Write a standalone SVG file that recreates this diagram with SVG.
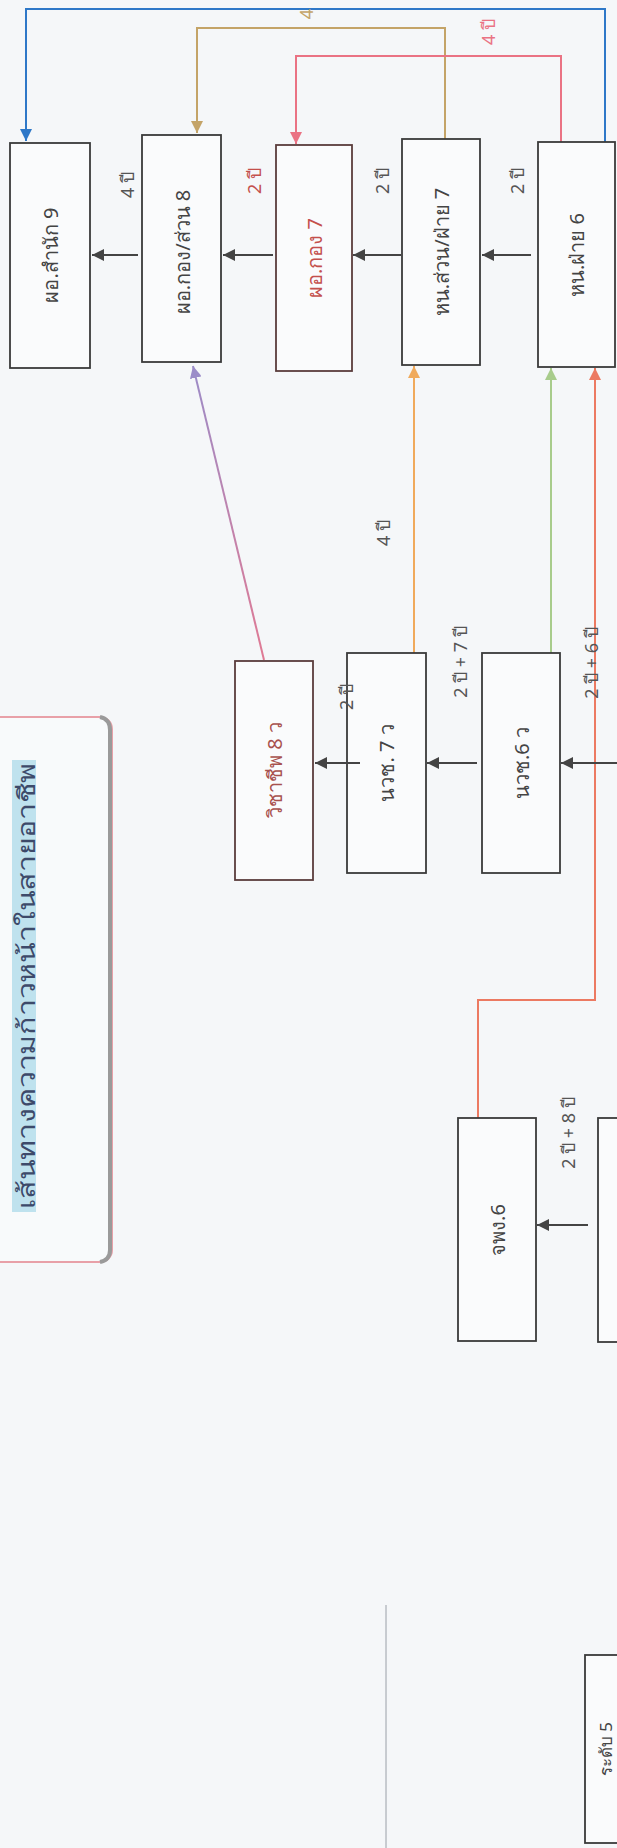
<svg xmlns="http://www.w3.org/2000/svg" width="617" height="1848" viewBox="0 0 617 1848">
<style>
.bg{fill:#f5f7f9}
.box{fill:#fafbfc;stroke:#3a3a3a;stroke-width:1.8}
.boxr{fill:#fafbfc;stroke:#5a3c3c;stroke-width:1.8}
.t{font-family:"Noto Sans","DejaVu Sans",sans-serif;font-size:20px;fill:#444;text-anchor:middle;dominant-baseline:central}
.lbl{font-family:"Noto Sans","DejaVu Sans",sans-serif;font-size:18px;fill:#555;text-anchor:middle;dominant-baseline:central}
.red{fill:#c4504c}
.arr{stroke:#444;stroke-width:2.2;fill:none}
.c{fill:none;stroke-width:2}
</style>
<defs>
<marker id="mk" markerUnits="userSpaceOnUse" markerWidth="13" markerHeight="12" refX="12" refY="6" orient="auto"><path d="M0,0 L12,6 L0,12 z" fill="#444"/></marker>
<marker id="mb" markerUnits="userSpaceOnUse" markerWidth="13" markerHeight="12" refX="12" refY="6" orient="auto"><path d="M0,0 L12,6 L0,12 z" fill="#2e78c8"/></marker>
<marker id="mt" markerUnits="userSpaceOnUse" markerWidth="13" markerHeight="12" refX="12" refY="6" orient="auto"><path d="M0,0 L12,6 L0,12 z" fill="#c4a468"/></marker>
<marker id="mp" markerUnits="userSpaceOnUse" markerWidth="13" markerHeight="12" refX="12" refY="6" orient="auto"><path d="M0,0 L12,6 L0,12 z" fill="#ea7384"/></marker>
<marker id="mv" markerUnits="userSpaceOnUse" markerWidth="13" markerHeight="12" refX="12" refY="6" orient="auto"><path d="M0,0 L12,6 L0,12 z" fill="#9b8cc8"/></marker>
<marker id="mo" markerUnits="userSpaceOnUse" markerWidth="13" markerHeight="12" refX="12" refY="6" orient="auto"><path d="M0,0 L12,6 L0,12 z" fill="#f0aa5c"/></marker>
<marker id="mg" markerUnits="userSpaceOnUse" markerWidth="13" markerHeight="12" refX="12" refY="6" orient="auto"><path d="M0,0 L12,6 L0,12 z" fill="#a8cc8c"/></marker>
<marker id="ms" markerUnits="userSpaceOnUse" markerWidth="13" markerHeight="12" refX="12" refY="6" orient="auto"><path d="M0,0 L12,6 L0,12 z" fill="#ec7a62"/></marker>
<linearGradient id="gv" gradientUnits="userSpaceOnUse" x1="264" y1="660" x2="193" y2="365"><stop offset="0" stop-color="#e07a94"/><stop offset="1" stop-color="#9b8cc8"/></linearGradient>
</defs>
<rect class="bg" x="0" y="0" width="617" height="1848"/>

<g id="title">
<rect x="-30" y="717" width="142" height="545" rx="12" fill="#f8fafb" stroke="#e8a0a8" stroke-width="2"/>
<path d="M100,717 Q110,719 110,730 L110,1250 Q110,1260 100,1262" fill="none" stroke="#9a9a9a" stroke-width="4"/>
<rect x="12" y="760" width="24" height="452" fill="#bfe2ee"/>
<text transform="translate(25,986) rotate(-90)" text-anchor="middle" dominant-baseline="central" font-family="'Noto Sans','DejaVu Sans',sans-serif" font-size="24" fill="#3d4a6a" textLength="446" lengthAdjust="spacingAndGlyphs">เส้นทางความก้าวหน้าในสายอาชีพ</text>
</g>

<g id="connectors">
<polyline class="c" stroke="#2e78c8" points="605,142 605,9 26,9 26,141" marker-end="url(#mb)"/>
<polyline class="c" stroke="#c4a468" points="445,139 445,28 197,28 197,133" marker-end="url(#mt)"/>
<polyline class="c" stroke="#ea7384" points="561,142 561,56 296,56 296,144" marker-end="url(#mp)"/>
<line class="c" stroke="url(#gv)" x1="264" y1="660" x2="193" y2="366" marker-end="url(#mv)"/>
<line class="c" stroke="#f0aa5c" x1="414" y1="653" x2="414" y2="366" marker-end="url(#mo)"/>
<line class="c" stroke="#a8cc8c" x1="551" y1="653" x2="551" y2="368" marker-end="url(#mg)"/>
<polyline class="c" stroke="#ec7a62" points="478,1118 478,1000 595,1000 595,368" marker-end="url(#ms)"/>
<line class="arr" x1="138" y1="255" x2="92" y2="255" marker-end="url(#mk)"/>
<line class="arr" x1="273" y1="255" x2="223" y2="255" marker-end="url(#mk)"/>
<line class="arr" x1="401" y1="255" x2="353" y2="255" marker-end="url(#mk)"/>
<line class="arr" x1="531" y1="255" x2="482" y2="255" marker-end="url(#mk)"/>
<line class="arr" x1="477" y1="763" x2="427" y2="763" marker-end="url(#mk)"/>
<line class="arr" x1="617" y1="763" x2="561" y2="763" marker-end="url(#mk)"/>
<line class="arr" x1="588" y1="1225" x2="537" y2="1225" marker-end="url(#mk)"/>
</g>

<g id="n-director9"><rect class="box" x="10" y="143" width="80" height="225"/><text class="t" transform="translate(50,255) rotate(-90)">ผอ.สำนัก 9</text></g>
<g id="n-div8"><rect class="box" x="142" y="135" width="79" height="227"/><text class="t" transform="translate(182,252) rotate(-90)">ผอ.กอง/ส่วน 8</text></g>
<g id="n-div7"><rect class="boxr" x="276" y="145" width="76" height="226"/><text class="t red" transform="translate(314,258) rotate(-90)">ผอ.กอง 7</text></g>
<g id="n-head7"><rect class="box" x="402" y="139" width="78" height="226"/><text class="t" transform="translate(441,252) rotate(-90)">หน.ส่วน/ฝ่าย 7</text></g>
<g id="n-head6"><rect class="box" x="538" y="142" width="77" height="225"/><text class="t" transform="translate(576,255) rotate(-90)">หน.ฝ่าย 6</text></g>
<g id="n-prof8"><rect class="boxr" x="235" y="661" width="78" height="219"/><text class="t" style="fill:#a8524e" transform="translate(274,770) rotate(-90)">วิชาชีพ 8 ว</text></g>
<g id="n-nwc7"><rect class="box" x="347" y="653" width="79" height="220"/><text class="t" transform="translate(386,763) rotate(-90)">นวช. 7 ว</text></g>
<g id="n-nwc6"><rect class="box" x="482" y="653" width="78" height="220"/><text class="t" transform="translate(521,763) rotate(-90)">นวช.6 ว</text></g>
<g id="n-jpg6"><rect class="box" x="458" y="1118" width="78" height="223"/><text class="t" transform="translate(497,1230) rotate(-90)">จพง.6</text></g>
<g id="n-right"><rect class="box" x="598" y="1118" width="80" height="224"/></g>
<line x1="386" y1="1605" x2="386" y2="1848" stroke="#9aa0a8" stroke-width="1"/>
<g id="n-level5"><rect class="box" x="585" y="1655" width="80" height="188"/><text class="t" style="font-size:17px" transform="translate(605,1749) rotate(-90)">ระดับ 5</text></g>

<g id="labels">
<line class="arr" x1="360" y1="763" x2="315" y2="763" marker-end="url(#mk)"/>
<text class="lbl" style="fill:#c4a468" transform="translate(306,14) rotate(-90)">4</text>
<text class="lbl" style="fill:#ea7384" transform="translate(488,32) rotate(-90)">4 ปี</text>
<text class="lbl" transform="translate(127,185) rotate(-90)">4 ปี</text>
<text class="lbl red" transform="translate(254,181) rotate(-90)">2 ปี</text>
<text class="lbl" transform="translate(382,181) rotate(-90)">2 ปี</text>
<text class="lbl" transform="translate(517,181) rotate(-90)">2 ปี</text>
<text class="lbl" transform="translate(383,533) rotate(-90)">4 ปี</text>
<text class="lbl" transform="translate(346,697) rotate(-90)">2 ปี</text>
<text class="lbl" transform="translate(460,662) rotate(-90)">2 ปี + 7 ปี</text>
<text class="lbl" transform="translate(591,663) rotate(-90)">2 ปี + 6 ปี</text>
<text class="lbl" transform="translate(568,1133) rotate(-90)">2 ปี + 8 ปี</text>
</g>
</svg>
